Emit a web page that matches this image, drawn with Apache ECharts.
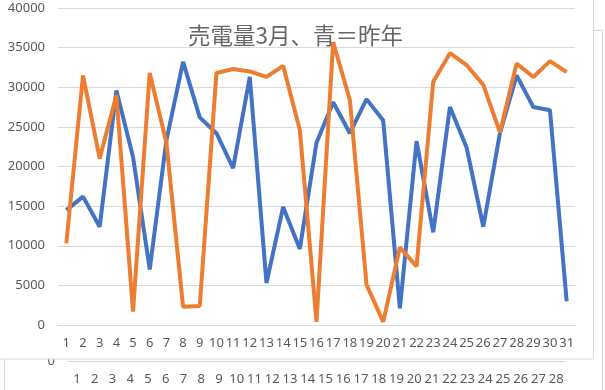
<!DOCTYPE html>
<html><head><meta charset="utf-8">
<script src="https://cdn.jsdelivr.net/npm/echarts@6/dist/echarts.min.js"></script>
<style>html,body{margin:0;padding:0;background:#fff}#c{width:605px;height:390px}</style>
</head><body><div id="c"></div>
<script>
const days = Array.from({length:31},(_,i)=>String(i+1));
const lastYear = [14500,16200,12400,29600,21200,7000,23300,33200,26200,24200,19800,31300,5300,14900,9600,23000,28100,24200,28500,25800,2100,23200,11700,27500,22400,12400,24200,31500,27500,27100,3000];
const thisYear = [10300,31500,21000,29000,1700,31800,23000,2300,2400,31800,32300,32000,31300,32700,24600,400,35700,28400,5100,400,9800,7400,30700,34300,32800,30300,24300,33000,31300,33300,31900];
const febDays = Array.from({length:28},(_,i)=>String(i+1));
const titleText = '売電量3月、青＝昨年';

const chart = echarts.init(document.getElementById('c'));
const font = 'Noto Sans';
chart.setOption({
  animation:false,
  backgroundColor:'#fff',
  title:{text:titleText,left:183,top:19,z:20,textStyle:{fontFamily:'Noto Sans CJK JP',fontSize:22.5,fontWeight:'normal',color:'#666666'}},
  graphic:[
    {type:'rect',z:-10,shape:{x:4.5,y:30.5,width:598,height:400},style:{fill:'#fff',stroke:'#d9d9d9',lineWidth:1}},
    {type:'rect',z:5,shape:{x:-2,y:-2,width:595.5,height:361},style:{fill:'#fff',stroke:'#d9d9d9',lineWidth:1}}
  ],
  grid:[
    {left:58,right:30,top:8,bottom:65,z:10},
    {left:68,right:40,top:200,bottom:29,z:0}
  ],
  xAxis:[
    {type:'category',gridIndex:0,data:days,z:10,boundaryGap:true,
     axisLine:{lineStyle:{color:'#d9d9d9'}},axisTick:{show:false},
     axisLabel:{interval:0,margin:12,color:'#595959',fontSize:13,fontFamily:font}},
    {type:'category',gridIndex:1,data:febDays,z:0,boundaryGap:true,
     axisLine:{lineStyle:{color:'#d9d9d9'}},axisTick:{show:false},
     axisLabel:{interval:0,margin:12,color:'#595959',fontSize:13,fontFamily:font}}
  ],
  yAxis:[
    {type:'value',gridIndex:0,min:0,max:40000,interval:5000,z:10,
     axisLine:{show:false},axisTick:{show:false},
     splitLine:{lineStyle:{color:'#d9d9d9'}},
     axisLabel:{margin:13,color:'#595959',fontSize:13,fontFamily:font,formatter:v=>String(v)}},
    {type:'value',gridIndex:1,min:0,max:40000,interval:40000,z:0,
     axisLine:{show:false},axisTick:{show:false},splitLine:{show:false},
     axisLabel:{margin:13,color:'#595959',fontSize:13,fontFamily:font,formatter:v=>v===0?'0':''}}
  ],
  series:[
    {type:'line',xAxisIndex:0,yAxisIndex:0,data:lastYear,z:11,symbol:'none',lineStyle:{color:'#4472C4',width:4},itemStyle:{color:'#4472C4'}},
    {type:'line',xAxisIndex:0,yAxisIndex:0,data:thisYear,z:12,symbol:'none',lineStyle:{color:'#ED7D31',width:4},itemStyle:{color:'#ED7D31'}}
  ]
});
</script></body></html>
